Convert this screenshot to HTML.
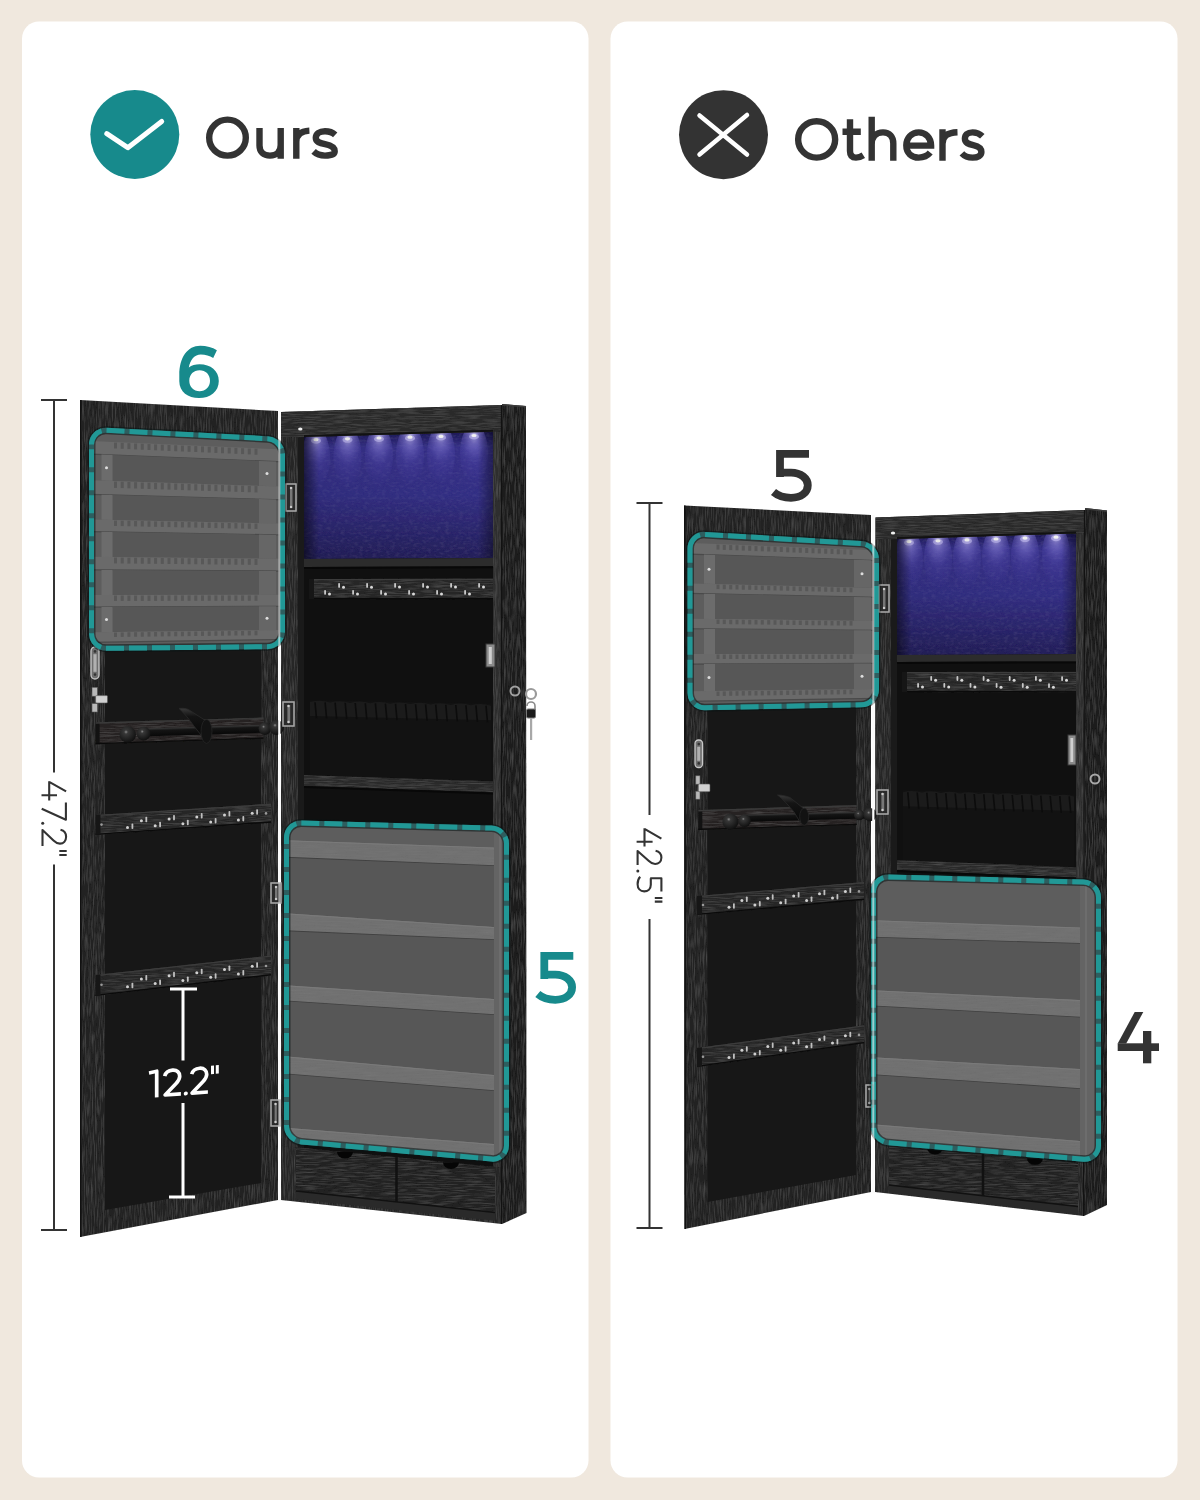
<!DOCTYPE html><html><head><meta charset="utf-8"><style>
html,body{margin:0;padding:0;background:#f0e8de;width:1200px;height:1500px;overflow:hidden}
svg{display:block}
text{font-family:"Liberation Sans",sans-serif}
</style></head><body>
<svg width="1200" height="1500" viewBox="0 0 1200 1500">
<defs>
<linearGradient id="purp" x1="0" y1="0" x2="0" y2="1">
<stop offset="0" stop-color="#1e1a58"/><stop offset="0.12" stop-color="#38338e"/><stop offset="0.5" stop-color="#36318a"/><stop offset="1" stop-color="#26225e"/>
</linearGradient>
<linearGradient id="purpL" x1="0" y1="0" x2="1" y2="0">
<stop offset="0" stop-color="#000" stop-opacity="0.55"/><stop offset="0.08" stop-color="#000" stop-opacity="0.1"/><stop offset="0.92" stop-color="#000" stop-opacity="0.05"/><stop offset="1" stop-color="#000" stop-opacity="0.4"/>
</linearGradient>
<radialGradient id="led" cx="0.5" cy="0.12" r="0.88">
<stop offset="0" stop-color="#d8d2ff" stop-opacity="0.9"/><stop offset="0.25" stop-color="#958be8" stop-opacity="0.6"/><stop offset="0.6" stop-color="#6a60d0" stop-opacity="0.2"/><stop offset="1" stop-color="#5a50c8" stop-opacity="0"/>
</radialGradient>
<radialGradient id="knob" cx="0.4" cy="0.35" r="0.65">
<stop offset="0" stop-color="#8a8a8a"/><stop offset="0.18" stop-color="#383838"/><stop offset="1" stop-color="#101010"/>
</radialGradient>
<linearGradient id="rodg" x1="0" y1="0" x2="0" y2="1">
<stop offset="0" stop-color="#3a3a3a"/><stop offset="0.3" stop-color="#141414"/><stop offset="1" stop-color="#080808"/>
</linearGradient>
<filter id="speck" x="0" y="0" width="1" height="1" filterUnits="objectBoundingBox">
<feTurbulence type="fractalNoise" baseFrequency="0.22 0.4" numOctaves="2" seed="11" result="n"/>
<feColorMatrix in="n" type="matrix" values="0 0 0 0 0.5  0 0 0 0 0.45  0 0 0 0 0.9  0 0 0 0.1 -0.04" result="w"/>
<feComposite in="w" in2="SourceGraphic" operator="in" result="wi"/>
<feMerge><feMergeNode in="SourceGraphic"/><feMergeNode in="wi"/></feMerge>
</filter>
<filter id="grainR" x="0" y="0" width="1" height="1" filterUnits="objectBoundingBox">
<feTurbulence type="fractalNoise" baseFrequency="0.05 0.7" numOctaves="2" seed="9" result="n"/>
<feColorMatrix in="n" type="matrix" values="0 0 0 0 0.25  0 0 0 0 0.25  0 0 0 0 0.25  0 0 0 0.35 -0.12" result="w"/>
<feComposite in="w" in2="SourceGraphic" operator="in" result="wi"/>
<feMerge><feMergeNode in="SourceGraphic"/><feMergeNode in="wi"/></feMerge>
</filter>
<filter id="grainH" x="0" y="0" width="1" height="1" filterUnits="objectBoundingBox">
<feTurbulence type="fractalNoise" baseFrequency="0.06 0.9" numOctaves="2" seed="4" result="n"/>
<feColorMatrix in="n" type="matrix" values="0 0 0 0 0.5  0 0 0 0 0.5  0 0 0 0 0.5  0 0 0 0.2 -0.08" result="w"/>
<feComposite in="w" in2="SourceGraphic" operator="in" result="wi"/>
<feMerge><feMergeNode in="SourceGraphic"/><feMergeNode in="wi"/></feMerge>
</filter>
<filter id="grainV" x="0" y="0" width="1" height="1" filterUnits="objectBoundingBox">
<feTurbulence type="fractalNoise" baseFrequency="0.9 0.06" numOctaves="2" seed="7" result="n"/>
<feColorMatrix in="n" type="matrix" values="0 0 0 0 0.5  0 0 0 0 0.5  0 0 0 0 0.5  0 0 0 0.2 -0.08" result="w"/>
<feComposite in="w" in2="SourceGraphic" operator="in" result="wi"/>
<feMerge><feMergeNode in="SourceGraphic"/><feMergeNode in="wi"/></feMerge>
</filter>
</defs>
<rect x="0" y="0" width="1200" height="1500" fill="#f0e8de"/>
<rect x="22" y="21.5" width="566.5" height="1456" rx="17" fill="#ffffff"/>
<rect x="610.5" y="21.5" width="567" height="1456" rx="17" fill="#ffffff"/>

<circle cx="134.8" cy="134.5" r="44.5" fill="#178a8c"/>
<path d="M106.8,133.7 L127.8,147.7 L161.7,121.5" fill="none" stroke="#ffffff" stroke-width="5" stroke-linecap="round" stroke-linejoin="round"/>
<g fill="none" stroke="#333333" stroke-width="6.4"><ellipse cx="227.5" cy="137.65" rx="18.3" ry="18"/><path d="M259.5,128 V145.5 C259.5,152 263.5,155.6 270,155.6 C276.5,155.6 280.7,151.5 280.7,145 M280.7,128 V158.8"/><path d="M296.3,128 V158.8 M296.3,142 C296.3,134.5 301,131 309.4,130.6"/><path d="M335.2,134.8 C332.5,132.3 329,131.2 325,131.2 C319.2,131.2 315.8,134 315.8,137.8 C315.8,142 319.8,143.2 325,144.2 C330.6,145.3 334.7,146.8 334.7,151.2 C334.7,154.3 331.2,155.6 325,155.6 C320.5,155.6 316.5,154.2 313.6,151.4"/></g>
<circle cx="723.5" cy="134.7" r="44.5" fill="#333333"/>
<path d="M699.5,115.5 L747,154.5 M747,115 L699.5,154.5" fill="none" stroke="#ffffff" stroke-width="4.5" stroke-linecap="round"/>
<g fill="none" stroke="#333333" stroke-width="6.4"><ellipse cx="816.65" cy="139.4" rx="18.5" ry="18.2"/><path d="M850,119.2 V151 C850,155.8 852.5,157.6 856,157.6 C858.6,157.6 860.8,156.8 863.3,155.2 M842.5,131.7 H860.8"/><path d="M871.7,116.7 V160.8 M871.7,144.5 C871.7,136.5 876.5,132.4 883,132.4 C889.5,132.4 893.3,136.5 893.3,143.5 V160.8"/><path d="M906.3,145.6 H931.1 C931.1,137.5 925.5,132.4 918.75,132.4 C911.4,132.4 906.3,138 906.3,145.3 C906.3,153 911.5,157.6 918.75,157.6 C923.6,157.6 927.6,155.8 930.2,152.6"/><path d="M942.5,129.2 V160.8 M942.5,144 C942.5,136 947.5,132.6 957.5,132.3"/><path d="M982.3,136.2 C979.6,133.6 976.2,132.4 972.6,132.4 C967.2,132.4 964.9,135 964.9,138.8 C964.9,143 968.8,144.1 973.2,145.1 C978.6,146.3 981.4,148 981.4,152 C981.4,155.6 977.8,157.6 972.6,157.6 C968.2,157.6 964.3,156 961.9,153.4"/></g>
<path d="M809,453.85 H780 V477" fill="none" stroke="#333333" stroke-width="7.8" stroke-linejoin="miter"/><path d="M780,472.6 L791,472.6 C801,472.6 807.8,478.5 807.8,485.2 C807.8,492.5 801,497.8 791,497.8 C784,497.8 778,495.8 773.5,492" fill="none" stroke="#333333" stroke-width="7.8"/>
<g transform="translate(-235.7,502)"><path d="M809,453.85 H780 V477" fill="none" stroke="#178a8c" stroke-width="7.8" stroke-linejoin="miter"/><path d="M780,472.6 L791,472.6 C801,472.6 807.8,478.5 807.8,485.2 C807.8,492.5 801,497.8 791,497.8 C784,497.8 778,495.8 773.5,492" fill="none" stroke="#178a8c" stroke-width="7.8"/></g>
<path fill-rule="evenodd" fill="#178a8c" d="M216.9,350.2 C212.5,347.2 206.5,345.7 200.2,345.7 C187.5,345.7 179.3,357.5 179.3,375 L179.3,381.2 C179.3,391.8 188,398.1 199,398.1 C210.2,398.1 218.8,391.6 218.8,381 C218.8,370.8 210.6,364.3 199.6,364.3 C195.4,364.3 191.6,365.4 188.8,367.6 C190.2,359.3 194.6,354.4 200.8,354.4 C205.6,354.4 209.6,355.7 213.2,358 Z M189.3,380.8 C189.3,374.3 193.6,370.2 199.6,370.2 C205.6,370.2 210,374.3 210,380.8 C210,387.2 205.6,391.2 199.6,391.2 C193.6,391.2 189.3,387.2 189.3,380.8 Z"/>
<polygon points="1134.7,1012 1143.3,1012 1126.2,1043.5 1117.7,1043.5" fill="#333333"/>
<rect x="1117.7" y="1043.3" width="41.3" height="7.7" fill="#333333"/>
<rect x="1143" y="1031" width="8.3" height="32.3" fill="#333333"/>
<path d="M41,400 H67 M54,400 V772.4 M54,864.4 V1230 M41,1230 H67" stroke="#333333" stroke-width="2" fill="none"/>
<path d="M636.5,503 H662.5 M649.5,503 V815 M649.5,919 V1228 M636.5,1228 H662.5" stroke="#333333" stroke-width="2" fill="none"/>
<g transform="translate(41.5,781.2) rotate(90)" fill="none" stroke="#333333" stroke-width="2.1" stroke-linejoin="round"><path d="M0,-7.7 H19.4 M0.6,-7.7 L10.2,-24.6 M14,0 V-15.5"/><path d="M21.2,-24.4 H38.6 L27.6,-0.2"/><path d="M48.6,-19 C49.5,-22.6 52,-24.6 55.6,-24.6 C59.6,-24.6 62.4,-22 62.4,-18.5 C62.4,-16 61.2,-14 59.2,-12 L48.8,-1 H64.8"/><path d="M69.8,-25.2 V-17.8 M73.8,-25.2 V-17.8"/><circle cx="42" cy="-1.2" r="1.5" fill="#333333" stroke="none"/></g>
<g transform="translate(636.6,828.2) rotate(90)" fill="none" stroke="#333333" stroke-width="2.1" stroke-linejoin="round"><path d="M0,-7.9 H18.4 M0.6,-7.9 L10.4,-24.8 M13.6,0 V-16"/><path d="M22.6,-19 C23.5,-22.6 26,-24.8 29.4,-24.8 C33.3,-24.8 35.8,-22 35.8,-18.5 C35.8,-16 34.6,-14 32.6,-12 L22.8,-1 H36.8"/><path d="M63.2,-24.8 H50.1 V-13.6 M50.1,-14.2 H56.5 C61,-14.2 63.2,-11.2 63.2,-7.6 C63.2,-3.6 60.2,-1 56,-1 C52.8,-1 50.2,-2 48.6,-3.6"/><path d="M69.8,-25.8 V-18.2 M73.4,-25.8 V-18.2"/><circle cx="42.8" cy="-1.2" r="1.5" fill="#333333" stroke="none"/></g>
<polygon points="502.0,404.0 526.0,406.0 526.5,1213.0 502.0,1224.0" fill="#1f1f1f" filter="url(#grainV)"/><line x1="502" y1="404.7" x2="526" y2="406.7" stroke="#3c3c3c" stroke-width="1.5"/><polygon points="281.0,412.0 502.0,405.0 502.0,1224.0 281.0,1200.0" fill="#262626" filter="url(#grainV)"/><polygon points="304.0,437.0 493.0,431.9 493.0,1166.7 304.0,1148.0" fill="#101010" /><polygon points="304.0,437.0 493.0,431.9 493.0,558.0 304.0,559.0" fill="url(#purp)" filter="url(#speck)"/><ellipse cx="316.0" cy="457.7" rx="14" ry="30" fill="url(#led)"/><ellipse cx="316.0" cy="440.7" rx="5" ry="3" fill="#cfc8ff" opacity="0.6"/><ellipse cx="316.0" cy="439.7" rx="2.6" ry="1.6" fill="#ffffff"/><ellipse cx="347.5" cy="456.8" rx="14" ry="30" fill="url(#led)"/><ellipse cx="347.5" cy="439.8" rx="5" ry="3" fill="#cfc8ff" opacity="0.6"/><ellipse cx="347.5" cy="438.8" rx="2.6" ry="1.6" fill="#ffffff"/><ellipse cx="379.0" cy="456.0" rx="14" ry="30" fill="url(#led)"/><ellipse cx="379.0" cy="439.0" rx="5" ry="3" fill="#cfc8ff" opacity="0.6"/><ellipse cx="379.0" cy="438.0" rx="2.6" ry="1.6" fill="#ffffff"/><ellipse cx="410.0" cy="455.2" rx="14" ry="30" fill="url(#led)"/><ellipse cx="410.0" cy="438.2" rx="5" ry="3" fill="#cfc8ff" opacity="0.6"/><ellipse cx="410.0" cy="437.2" rx="2.6" ry="1.6" fill="#ffffff"/><ellipse cx="441.0" cy="454.4" rx="14" ry="30" fill="url(#led)"/><ellipse cx="441.0" cy="437.4" rx="5" ry="3" fill="#cfc8ff" opacity="0.6"/><ellipse cx="441.0" cy="436.4" rx="2.6" ry="1.6" fill="#ffffff"/><ellipse cx="474.0" cy="453.5" rx="14" ry="30" fill="url(#led)"/><ellipse cx="474.0" cy="436.5" rx="5" ry="3" fill="#cfc8ff" opacity="0.6"/><ellipse cx="474.0" cy="435.5" rx="2.6" ry="1.6" fill="#ffffff"/><polygon points="304.0,437.0 493.0,431.9 493.0,558.0 304.0,559.0" fill="url(#purpL)" /><polygon points="281.0,412.0 502.0,405.0 502.0,431.6 281.0,437.6" fill="#2a2a2a" filter="url(#grainH)"/><line x1="304.0" y1="436.0" x2="493.0" y2="430.8" stroke="#121212" stroke-width="2" /><polygon points="281.0,437.6 304.0,437.0 304.0,1148.0 281.0,1145.7" fill="#262626" filter="url(#grainV)"/><polygon points="298.0,437.2 304.0,437.0 304.0,1148.0 298.0,1147.4" fill="#1a1a1a" /><polygon points="493.0,431.9 502.0,431.6 502.0,1167.6 493.0,1166.7" fill="#2e2e2e" filter="url(#grainV)"/><line x1="501.5" y1="405" x2="501.5" y2="1224" stroke="#121212" stroke-width="1.2"/><polygon points="304.0,559.0 493.0,558.0 493.0,566.2 304.0,567.0" fill="#2c2c2c" /><line x1="304.0" y1="568.0" x2="493.0" y2="567.3" stroke="#080808" stroke-width="2" /><polygon points="309.0,579.0 493.0,578.6 493.0,599.3 309.0,599.0" fill="#262626" filter="url(#grainH)"/><line x1="309.0" y1="579.7" x2="493.0" y2="579.4" stroke="#3c3c3c" stroke-width="1.2" /><line x1="309.0" y1="598.4" x2="493.0" y2="598.7" stroke="#0a0a0a" stroke-width="1.4" /><polygon points="309.0,579.0 314.0,579.0 314.0,599.0 309.0,599.0" fill="#161616" /><rect x="338.2" y="583.1" width="1.8" height="4.8" rx="0.8" fill="#c8c8c8"/><circle cx="343.5" cy="587.2" r="1.5" fill="#d8d8d8"/><rect x="366.2" y="583.1" width="1.8" height="4.8" rx="0.8" fill="#c8c8c8"/><circle cx="371.5" cy="587.2" r="1.5" fill="#d8d8d8"/><rect x="394.2" y="583.0" width="1.8" height="4.8" rx="0.8" fill="#c8c8c8"/><circle cx="399.5" cy="587.1" r="1.5" fill="#d8d8d8"/><rect x="422.2" y="583.0" width="1.8" height="4.8" rx="0.8" fill="#c8c8c8"/><circle cx="427.5" cy="587.1" r="1.5" fill="#d8d8d8"/><rect x="450.2" y="583.0" width="1.8" height="4.8" rx="0.8" fill="#c8c8c8"/><circle cx="455.5" cy="587.1" r="1.5" fill="#d8d8d8"/><rect x="478.2" y="583.0" width="1.8" height="4.8" rx="0.8" fill="#c8c8c8"/><circle cx="483.5" cy="587.1" r="1.5" fill="#d8d8d8"/><rect x="324.2" y="589.9" width="1.8" height="4.8" rx="0.8" fill="#c8c8c8"/><circle cx="329.5" cy="594.0" r="1.5" fill="#d8d8d8"/><rect x="352.2" y="589.9" width="1.8" height="4.8" rx="0.8" fill="#c8c8c8"/><circle cx="357.5" cy="594.0" r="1.5" fill="#d8d8d8"/><rect x="380.2" y="589.9" width="1.8" height="4.8" rx="0.8" fill="#c8c8c8"/><circle cx="385.5" cy="594.0" r="1.5" fill="#d8d8d8"/><rect x="408.2" y="590.0" width="1.8" height="4.8" rx="0.8" fill="#c8c8c8"/><circle cx="413.5" cy="594.1" r="1.5" fill="#d8d8d8"/><rect x="436.2" y="590.0" width="1.8" height="4.8" rx="0.8" fill="#c8c8c8"/><circle cx="441.5" cy="594.1" r="1.5" fill="#d8d8d8"/><rect x="464.2" y="590.0" width="1.8" height="4.8" rx="0.8" fill="#c8c8c8"/><circle cx="469.5" cy="594.1" r="1.5" fill="#d8d8d8"/><polygon points="310.0,700.1 491.0,703.6 491.0,781.1 310.0,775.2" fill="#121212" /><path d="M310.0,702.1 Q320.1,699.3 330.1,702.5 Q340.2,699.7 350.2,702.9 Q360.3,700.1 370.3,703.3 Q380.4,700.5 390.4,703.7 Q400.5,700.9 410.6,704.1 Q420.6,701.3 430.7,704.5 Q440.7,701.7 450.8,704.9 Q460.8,702.1 470.9,705.3 Q480.9,702.5 491.0,705.7 L491.0,720.2 L310.0,716.1 Z" fill="#1b1b1b"/><line x1="315.0" y1="702.2" x2="316.5" y2="718.3" stroke="#0c0c0c" stroke-width="1.6"/><line x1="325.1" y1="702.4" x2="326.6" y2="718.5" stroke="#0c0c0c" stroke-width="1.6"/><line x1="335.1" y1="702.6" x2="336.6" y2="718.7" stroke="#0c0c0c" stroke-width="1.6"/><line x1="345.2" y1="702.8" x2="346.7" y2="719.0" stroke="#0c0c0c" stroke-width="1.6"/><line x1="355.2" y1="703.0" x2="356.8" y2="719.2" stroke="#0c0c0c" stroke-width="1.6"/><line x1="365.3" y1="703.2" x2="366.8" y2="719.4" stroke="#0c0c0c" stroke-width="1.6"/><line x1="375.4" y1="703.4" x2="376.9" y2="719.7" stroke="#0c0c0c" stroke-width="1.6"/><line x1="385.4" y1="703.6" x2="386.9" y2="719.9" stroke="#0c0c0c" stroke-width="1.6"/><line x1="395.5" y1="703.8" x2="397.0" y2="720.1" stroke="#0c0c0c" stroke-width="1.6"/><line x1="405.5" y1="704.0" x2="407.0" y2="720.3" stroke="#0c0c0c" stroke-width="1.6"/><line x1="415.6" y1="704.2" x2="417.1" y2="720.6" stroke="#0c0c0c" stroke-width="1.6"/><line x1="425.6" y1="704.4" x2="427.1" y2="720.8" stroke="#0c0c0c" stroke-width="1.6"/><line x1="435.7" y1="704.6" x2="437.2" y2="721.0" stroke="#0c0c0c" stroke-width="1.6"/><line x1="445.8" y1="704.8" x2="447.2" y2="721.3" stroke="#0c0c0c" stroke-width="1.6"/><line x1="455.8" y1="705.0" x2="457.3" y2="721.5" stroke="#0c0c0c" stroke-width="1.6"/><line x1="465.9" y1="705.2" x2="467.4" y2="721.7" stroke="#0c0c0c" stroke-width="1.6"/><line x1="475.9" y1="705.4" x2="477.4" y2="721.9" stroke="#0c0c0c" stroke-width="1.6"/><line x1="486.0" y1="705.6" x2="487.5" y2="722.2" stroke="#0c0c0c" stroke-width="1.6"/><polygon points="304.0,775.0 493.0,781.2 493.0,792.6 304.0,786.0" fill="#2c2c2c" filter="url(#grainH)"/><line x1="304.0" y1="787.0" x2="493.0" y2="793.6" stroke="#080808" stroke-width="2" /><polygon points="296.0,1147.2 495.0,1166.9 495.0,1212.4 296.0,1191.1" fill="#202020" filter="url(#grainH)"/><polygon points="296.0,1191.1 495.0,1212.4 495.0,1220.7 296.0,1199.1" fill="#2a2a2a" /><line x1="296.0" y1="1191.1" x2="495.0" y2="1212.4" stroke="#111" stroke-width="1.5" /><line x1="396.5" y1="1157.2" x2="396.5" y2="1201.9" stroke="#111" stroke-width="2.5"/><path d="M337.0,1152.1 A8,6.5 0 0 0 353.0,1152.1 Z" fill="#050505"/><path d="M443.0,1162.5 A8,6.5 0 0 0 459.0,1162.5 Z" fill="#050505"/><rect x="486" y="644" width="9" height="23" fill="#8a8a8a" stroke="#3a3a3a" stroke-width="1"/><rect x="488.7" y="647" width="3.1" height="17" fill="#cfcfcf"/><circle cx="515" cy="691" r="4.5" fill="none" stroke="#a0a0a0" stroke-width="2"/><circle cx="531" cy="694" r="5" fill="none" stroke="#9a9a9a" stroke-width="2.2"/><path d="M527,706 a4,4 0 0 1 8,0 v4" fill="none" stroke="#8a8a8a" stroke-width="1.6"/><rect x="526.5" y="709" width="9" height="9" rx="1.5" fill="#1a1a1a" stroke="#777" stroke-width="1"/><rect x="530" y="718" width="2.2" height="22" fill="#a8a8a8"/><ellipse cx="300.3" cy="429" rx="2.2" ry="1.5" fill="#f0f0f0"/><polygon points="80.0,400.0 278.0,411.0 278.0,1200.0 80.0,1237.0" fill="#232323" filter="url(#grainV)"/><polygon points="105.0,432.0 261.0,442.0 261.0,1183.0 105.0,1210.0" fill="#171717" /><line x1="80.8" y1="400" x2="80.8" y2="1237" stroke="#111" stroke-width="1.6"/><polygon points="95.5,815.0 271.0,803.6 271.0,822.6 95.5,835.0" fill="#262626" filter="url(#grainH)"/><line x1="95.5" y1="815.7" x2="271.0" y2="804.3" stroke="#3c3c3c" stroke-width="1.2" /><line x1="95.5" y1="834.4" x2="271.0" y2="822.0" stroke="#0a0a0a" stroke-width="1.4" /><polygon points="95.5,815.0 100.5,814.7 100.5,834.6 95.5,835.0" fill="#161616" /><circle cx="101.5" cy="824.6" r="1.3" fill="#9a9a9a"/><circle cx="266.0" cy="813.4" r="1.3" fill="#9a9a9a"/><circle cx="141.4" cy="820.7" r="1.5" fill="#d0d0d0"/><rect x="145.4" y="816.7" width="1.8" height="5.5" rx="0.8" fill="#c0c0c0"/><circle cx="169.1" cy="818.9" r="1.5" fill="#d0d0d0"/><rect x="173.1" y="814.9" width="1.8" height="5.5" rx="0.8" fill="#c0c0c0"/><circle cx="196.8" cy="817.0" r="1.5" fill="#d0d0d0"/><rect x="200.8" y="813.0" width="1.8" height="5.5" rx="0.8" fill="#c0c0c0"/><circle cx="224.5" cy="815.1" r="1.5" fill="#d0d0d0"/><rect x="228.5" y="811.1" width="1.8" height="5.5" rx="0.8" fill="#c0c0c0"/><circle cx="252.2" cy="813.3" r="1.5" fill="#d0d0d0"/><rect x="256.2" y="809.3" width="1.8" height="5.5" rx="0.8" fill="#c0c0c0"/><circle cx="127.5" cy="827.6" r="1.5" fill="#d0d0d0"/><rect x="131.5" y="823.6" width="1.8" height="5.5" rx="0.8" fill="#c0c0c0"/><circle cx="155.2" cy="825.7" r="1.5" fill="#d0d0d0"/><rect x="159.2" y="821.7" width="1.8" height="5.5" rx="0.8" fill="#c0c0c0"/><circle cx="182.9" cy="823.8" r="1.5" fill="#d0d0d0"/><rect x="186.9" y="819.8" width="1.8" height="5.5" rx="0.8" fill="#c0c0c0"/><circle cx="210.7" cy="821.9" r="1.5" fill="#d0d0d0"/><rect x="214.7" y="817.9" width="1.8" height="5.5" rx="0.8" fill="#c0c0c0"/><circle cx="238.4" cy="819.9" r="1.5" fill="#d0d0d0"/><rect x="242.4" y="815.9" width="1.8" height="5.5" rx="0.8" fill="#c0c0c0"/><polygon points="95.5,975.0 271.0,955.4 271.0,975.4 95.5,996.0" fill="#262626" filter="url(#grainH)"/><line x1="95.5" y1="975.7" x2="271.0" y2="956.1" stroke="#3c3c3c" stroke-width="1.2" /><line x1="95.5" y1="995.4" x2="271.0" y2="974.8" stroke="#0a0a0a" stroke-width="1.4" /><polygon points="95.5,975.0 100.5,974.4 100.5,995.4 95.5,996.0" fill="#161616" /><circle cx="101.5" cy="984.8" r="1.3" fill="#9a9a9a"/><circle cx="266.0" cy="966.0" r="1.3" fill="#9a9a9a"/><circle cx="141.4" cy="979.0" r="1.5" fill="#d0d0d0"/><rect x="145.4" y="975.0" width="1.8" height="5.5" rx="0.8" fill="#c0c0c0"/><circle cx="169.1" cy="975.8" r="1.5" fill="#d0d0d0"/><rect x="173.1" y="971.8" width="1.8" height="5.5" rx="0.8" fill="#c0c0c0"/><circle cx="196.8" cy="972.7" r="1.5" fill="#d0d0d0"/><rect x="200.8" y="968.7" width="1.8" height="5.5" rx="0.8" fill="#c0c0c0"/><circle cx="224.5" cy="969.5" r="1.5" fill="#d0d0d0"/><rect x="228.5" y="965.5" width="1.8" height="5.5" rx="0.8" fill="#c0c0c0"/><circle cx="252.2" cy="966.3" r="1.5" fill="#d0d0d0"/><rect x="256.2" y="962.3" width="1.8" height="5.5" rx="0.8" fill="#c0c0c0"/><circle cx="127.5" cy="986.8" r="1.5" fill="#d0d0d0"/><rect x="131.5" y="982.8" width="1.8" height="5.5" rx="0.8" fill="#c0c0c0"/><circle cx="155.2" cy="983.6" r="1.5" fill="#d0d0d0"/><rect x="159.2" y="979.6" width="1.8" height="5.5" rx="0.8" fill="#c0c0c0"/><circle cx="182.9" cy="980.4" r="1.5" fill="#d0d0d0"/><rect x="186.9" y="976.4" width="1.8" height="5.5" rx="0.8" fill="#c0c0c0"/><circle cx="210.7" cy="977.2" r="1.5" fill="#d0d0d0"/><rect x="214.7" y="973.2" width="1.8" height="5.5" rx="0.8" fill="#c0c0c0"/><circle cx="238.4" cy="974.0" r="1.5" fill="#d0d0d0"/><rect x="242.4" y="970.0" width="1.8" height="5.5" rx="0.8" fill="#c0c0c0"/><polygon points="95.6,722.2 263.5,717.6 263.5,738.7 95.6,744.2" fill="#252321" filter="url(#grainH)"/><polygon points="95.6,722.2 99.6,722.2 99.6,744.2 95.6,744.2" fill="#121212" /><line x1="95.6" y1="723.0" x2="263.5" y2="718.4" stroke="#3a3a3a" stroke-width="1.4"/><line x1="95.6" y1="743.6" x2="263.5" y2="738.1" stroke="#0a0a0a" stroke-width="1.4"/><g transform="translate(138,732.6) rotate(-1.74)"><rect x="0" y="-4.0" width="132.1" height="8" rx="4.0" fill="url(#rodg)"/></g><path d="M179,708.4 C183,708 186,708.5 188.3,709.4 L206.6,721.3 L201,735 L193.8,725.9 C189,719 184,713 179,708.4 Z" fill="url(#rodg)" stroke="#2a2a2a" stroke-width="0.8"/><ellipse cx="206.5" cy="731.4" rx="5.5" ry="12" fill="#121212" stroke="#262626" stroke-width="0.8"/><circle cx="127.7" cy="734.5" r="8.3" fill="url(#knob)"/><circle cx="143.6" cy="733.6" r="6.9" fill="url(#knob)"/><circle cx="264.8" cy="728.6" r="6.3" fill="url(#knob)"/><circle cx="276.5" cy="727.5" r="7.5" fill="url(#knob)"/><rect x="91" y="647" width="8" height="32" rx="4" fill="#6e6e6e" stroke="#c8c8c8" stroke-width="1.3"/><rect x="93.4" y="654.2" width="3.2" height="17.6" fill="#b0b0b0"/><circle cx="95.0" cy="651.4" r="1.3" fill="#333"/><circle cx="95.0" cy="674.6" r="1.3" fill="#333"/><rect x="92" y="687.3" width="5.4" height="8.9" fill="#b8b8b8" stroke="#555" stroke-width="0.6"/><rect x="92" y="703.6" width="5.4" height="8.4" fill="#b8b8b8" stroke="#555" stroke-width="0.6"/><rect x="95.6" y="695.6" width="11.9" height="7.4" rx="1" fill="#d0d0d0" stroke="#555" stroke-width="0.6"/><line x1="279.3" y1="411" x2="279.3" y2="1201" stroke="#f4f4f4" stroke-width="2"/><rect x="286" y="484" width="10" height="27" fill="#2a2a2a" stroke="#b0b0b0" stroke-width="1.4"/><rect x="290.0" y="487" width="2.5" height="21" fill="#777"/><circle cx="291.0" cy="488" r="1.2" fill="#ccc"/><circle cx="291.0" cy="507" r="1.2" fill="#ccc"/><rect x="283" y="702" width="11" height="24" fill="#2a2a2a" stroke="#b0b0b0" stroke-width="1.4"/><rect x="287.4" y="705" width="2.8" height="18" fill="#777"/><circle cx="288.5" cy="706" r="1.2" fill="#ccc"/><circle cx="288.5" cy="722" r="1.2" fill="#ccc"/><rect x="271" y="883" width="10" height="20" fill="#2a2a2a" stroke="#b0b0b0" stroke-width="1.4"/><rect x="275.0" y="886" width="2.5" height="14" fill="#777"/><circle cx="276.0" cy="887" r="1.2" fill="#ccc"/><circle cx="276.0" cy="899" r="1.2" fill="#ccc"/><rect x="271" y="1100" width="9" height="26" fill="#2a2a2a" stroke="#b0b0b0" stroke-width="1.4"/><rect x="274.6" y="1103" width="2.2" height="20" fill="#777"/><circle cx="275.5" cy="1104" r="1.2" fill="#ccc"/><circle cx="275.5" cy="1122" r="1.2" fill="#ccc"/><clipPath id="ov1"><path d="M91.5,444.5 C91.5,436.3 98.3,429.9 106.5,430.3 L267.5,438.7 C275.7,439.1 282.5,446.3 282.5,454.5 L282.5,631.5 C282.5,639.7 275.7,646.6 267.5,646.7 L106.5,648.3 C98.3,648.4 91.5,641.7 91.5,633.5 Z"/></clipPath><path d="M91.5,444.5 C91.5,436.3 98.3,429.9 106.5,430.3 L267.5,438.7 C275.7,439.1 282.5,446.3 282.5,454.5 L282.5,631.5 C282.5,639.7 275.7,646.6 267.5,646.7 L106.5,648.3 C98.3,648.4 91.5,641.7 91.5,633.5 Z" fill="#5d5d5d"/><g clip-path="url(#ov1)"><polygon points="84.0,440.8 290.0,449.8 290.0,462.1 84.0,453.9" fill="#6a6a6a" /><rect x="114.0" y="442.6" width="3" height="5.9" fill="#585858"/><rect x="120.7" y="442.9" width="3" height="5.9" fill="#585858"/><rect x="127.4" y="443.2" width="3" height="5.9" fill="#585858"/><rect x="134.1" y="443.5" width="3" height="5.9" fill="#585858"/><rect x="140.8" y="443.8" width="3" height="5.9" fill="#585858"/><rect x="147.5" y="444.1" width="3" height="5.9" fill="#585858"/><rect x="154.1" y="444.4" width="3" height="5.9" fill="#585858"/><rect x="160.8" y="444.7" width="3" height="5.9" fill="#585858"/><rect x="167.5" y="445.0" width="3" height="5.9" fill="#585858"/><rect x="174.2" y="445.3" width="3" height="5.9" fill="#585858"/><rect x="180.9" y="445.6" width="3" height="5.9" fill="#585858"/><rect x="187.6" y="445.9" width="3" height="5.9" fill="#585858"/><rect x="194.3" y="446.1" width="3" height="5.9" fill="#585858"/><rect x="201.0" y="446.4" width="3" height="5.9" fill="#585858"/><rect x="207.7" y="446.7" width="3" height="5.9" fill="#585858"/><rect x="214.4" y="447.0" width="3" height="5.9" fill="#585858"/><rect x="221.0" y="447.3" width="3" height="5.9" fill="#585858"/><rect x="227.7" y="447.6" width="3" height="5.9" fill="#585858"/><rect x="234.4" y="447.9" width="3" height="5.9" fill="#585858"/><rect x="241.1" y="448.2" width="3" height="5.9" fill="#585858"/><rect x="247.8" y="448.5" width="3" height="5.9" fill="#585858"/><rect x="254.5" y="448.8" width="3" height="5.9" fill="#585858"/><line x1="84.0" y1="453.9" x2="290.0" y2="462.1" stroke="#4a4a4a" stroke-width="1.2" /><polygon points="112.5,455.0 259.0,460.9 259.0,485.7 112.5,481.0" fill="#575757" /><polygon points="101.5,454.6 112.5,455.0 112.5,481.0 101.5,480.6" fill="#6c6c6c" /><polygon points="259.0,460.9 276.0,461.5 276.0,486.3 259.0,485.7" fill="#666666" /><circle cx="106.5" cy="467.8" r="1.5" fill="#dddddd"/><circle cx="267.0" cy="473.6" r="1.5" fill="#dddddd"/><polygon points="84.0,480.1 290.0,486.8 290.0,500.0 84.0,494.2" fill="#6a6a6a" /><rect x="114.0" y="481.6" width="3" height="6.3" fill="#585858"/><rect x="120.7" y="481.8" width="3" height="6.3" fill="#585858"/><rect x="127.4" y="482.0" width="3" height="6.3" fill="#585858"/><rect x="134.1" y="482.2" width="3" height="6.3" fill="#585858"/><rect x="140.8" y="482.5" width="3" height="6.3" fill="#585858"/><rect x="147.5" y="482.7" width="3" height="6.3" fill="#585858"/><rect x="154.1" y="482.9" width="3" height="6.3" fill="#585858"/><rect x="160.8" y="483.1" width="3" height="6.3" fill="#585858"/><rect x="167.5" y="483.3" width="3" height="6.3" fill="#585858"/><rect x="174.2" y="483.5" width="3" height="6.3" fill="#585858"/><rect x="180.9" y="483.8" width="3" height="6.3" fill="#585858"/><rect x="187.6" y="484.0" width="3" height="6.3" fill="#585858"/><rect x="194.3" y="484.2" width="3" height="6.3" fill="#585858"/><rect x="201.0" y="484.4" width="3" height="6.3" fill="#585858"/><rect x="207.7" y="484.6" width="3" height="6.3" fill="#585858"/><rect x="214.4" y="484.8" width="3" height="6.3" fill="#585858"/><rect x="221.0" y="485.1" width="3" height="6.3" fill="#585858"/><rect x="227.7" y="485.3" width="3" height="6.3" fill="#585858"/><rect x="234.4" y="485.5" width="3" height="6.3" fill="#585858"/><rect x="241.1" y="485.7" width="3" height="6.3" fill="#585858"/><rect x="247.8" y="485.9" width="3" height="6.3" fill="#585858"/><rect x="254.5" y="486.1" width="3" height="6.3" fill="#585858"/><line x1="84.0" y1="494.2" x2="290.0" y2="500.0" stroke="#4a4a4a" stroke-width="1.2" /><polygon points="112.5,495.0 259.0,499.1 259.0,523.1 112.5,520.0" fill="#575757" /><polygon points="101.5,494.7 112.5,495.0 112.5,520.0 101.5,519.8" fill="#6c6c6c" /><polygon points="259.0,499.1 276.0,499.6 276.0,523.4 259.0,523.1" fill="#666666" /><polygon points="84.0,519.4 290.0,523.7 290.0,535.1 84.0,531.5" fill="#6a6a6a" /><rect x="114.0" y="520.6" width="3" height="5.4" fill="#585858"/><rect x="120.7" y="520.7" width="3" height="5.4" fill="#585858"/><rect x="127.4" y="520.8" width="3" height="5.4" fill="#585858"/><rect x="134.1" y="521.0" width="3" height="5.4" fill="#585858"/><rect x="140.8" y="521.1" width="3" height="5.4" fill="#585858"/><rect x="147.5" y="521.3" width="3" height="5.4" fill="#585858"/><rect x="154.1" y="521.4" width="3" height="5.4" fill="#585858"/><rect x="160.8" y="521.5" width="3" height="5.4" fill="#585858"/><rect x="167.5" y="521.7" width="3" height="5.4" fill="#585858"/><rect x="174.2" y="521.8" width="3" height="5.4" fill="#585858"/><rect x="180.9" y="522.0" width="3" height="5.4" fill="#585858"/><rect x="187.6" y="522.1" width="3" height="5.4" fill="#585858"/><rect x="194.3" y="522.2" width="3" height="5.4" fill="#585858"/><rect x="201.0" y="522.4" width="3" height="5.4" fill="#585858"/><rect x="207.7" y="522.5" width="3" height="5.4" fill="#585858"/><rect x="214.4" y="522.7" width="3" height="5.4" fill="#585858"/><rect x="221.0" y="522.8" width="3" height="5.4" fill="#585858"/><rect x="227.7" y="523.0" width="3" height="5.4" fill="#585858"/><rect x="234.4" y="523.1" width="3" height="5.4" fill="#585858"/><rect x="241.1" y="523.2" width="3" height="5.4" fill="#585858"/><rect x="247.8" y="523.4" width="3" height="5.4" fill="#585858"/><rect x="254.5" y="523.5" width="3" height="5.4" fill="#585858"/><line x1="84.0" y1="531.5" x2="290.0" y2="535.1" stroke="#4a4a4a" stroke-width="1.2" /><polygon points="112.5,532.0 259.0,534.6 259.0,558.5 112.5,557.0" fill="#575757" /><polygon points="101.5,531.8 112.5,532.0 112.5,557.0 101.5,556.9" fill="#6c6c6c" /><polygon points="259.0,534.6 276.0,534.9 276.0,558.7 259.0,558.5" fill="#666666" /><polygon points="84.0,556.7 290.0,558.8 290.0,571.1 84.0,569.8" fill="#6a6a6a" /><rect x="114.0" y="557.5" width="3" height="5.9" fill="#585858"/><rect x="120.7" y="557.6" width="3" height="5.9" fill="#585858"/><rect x="127.4" y="557.7" width="3" height="5.9" fill="#585858"/><rect x="134.1" y="557.7" width="3" height="5.9" fill="#585858"/><rect x="140.8" y="557.8" width="3" height="5.9" fill="#585858"/><rect x="147.5" y="557.9" width="3" height="5.9" fill="#585858"/><rect x="154.1" y="557.9" width="3" height="5.9" fill="#585858"/><rect x="160.8" y="558.0" width="3" height="5.9" fill="#585858"/><rect x="167.5" y="558.1" width="3" height="5.9" fill="#585858"/><rect x="174.2" y="558.1" width="3" height="5.9" fill="#585858"/><rect x="180.9" y="558.2" width="3" height="5.9" fill="#585858"/><rect x="187.6" y="558.3" width="3" height="5.9" fill="#585858"/><rect x="194.3" y="558.3" width="3" height="5.9" fill="#585858"/><rect x="201.0" y="558.4" width="3" height="5.9" fill="#585858"/><rect x="207.7" y="558.5" width="3" height="5.9" fill="#585858"/><rect x="214.4" y="558.6" width="3" height="5.9" fill="#585858"/><rect x="221.0" y="558.6" width="3" height="5.9" fill="#585858"/><rect x="227.7" y="558.7" width="3" height="5.9" fill="#585858"/><rect x="234.4" y="558.8" width="3" height="5.9" fill="#585858"/><rect x="241.1" y="558.8" width="3" height="5.9" fill="#585858"/><rect x="247.8" y="558.9" width="3" height="5.9" fill="#585858"/><rect x="254.5" y="559.0" width="3" height="5.9" fill="#585858"/><line x1="84.0" y1="569.8" x2="290.0" y2="571.1" stroke="#4a4a4a" stroke-width="1.2" /><polygon points="112.5,570.0 259.0,570.9 259.0,594.9 112.5,595.0" fill="#575757" /><polygon points="101.5,569.9 112.5,570.0 112.5,595.0 101.5,595.0" fill="#6c6c6c" /><polygon points="259.0,570.9 276.0,571.0 276.0,594.8 259.0,594.9" fill="#666666" /><polygon points="84.0,595.0 290.0,594.8 290.0,606.2 84.0,607.1" fill="#6a6a6a" /><rect x="114.0" y="595.5" width="3" height="5.4" fill="#585858"/><rect x="120.7" y="595.5" width="3" height="5.4" fill="#585858"/><rect x="127.4" y="595.5" width="3" height="5.4" fill="#585858"/><rect x="134.1" y="595.5" width="3" height="5.4" fill="#585858"/><rect x="140.8" y="595.5" width="3" height="5.4" fill="#585858"/><rect x="147.5" y="595.5" width="3" height="5.4" fill="#585858"/><rect x="154.1" y="595.5" width="3" height="5.4" fill="#585858"/><rect x="160.8" y="595.5" width="3" height="5.4" fill="#585858"/><rect x="167.5" y="595.4" width="3" height="5.4" fill="#585858"/><rect x="174.2" y="595.4" width="3" height="5.4" fill="#585858"/><rect x="180.9" y="595.4" width="3" height="5.4" fill="#585858"/><rect x="187.6" y="595.4" width="3" height="5.4" fill="#585858"/><rect x="194.3" y="595.4" width="3" height="5.4" fill="#585858"/><rect x="201.0" y="595.4" width="3" height="5.4" fill="#585858"/><rect x="207.7" y="595.4" width="3" height="5.4" fill="#585858"/><rect x="214.4" y="595.4" width="3" height="5.4" fill="#585858"/><rect x="221.0" y="595.4" width="3" height="5.4" fill="#585858"/><rect x="227.7" y="595.4" width="3" height="5.4" fill="#585858"/><rect x="234.4" y="595.4" width="3" height="5.4" fill="#585858"/><rect x="241.1" y="595.4" width="3" height="5.4" fill="#585858"/><rect x="247.8" y="595.4" width="3" height="5.4" fill="#585858"/><rect x="254.5" y="595.4" width="3" height="5.4" fill="#585858"/><line x1="84.0" y1="607.1" x2="290.0" y2="606.2" stroke="#4a4a4a" stroke-width="1.2" /><polygon points="112.5,607.0 259.0,606.3 259.0,630.3 112.5,632.0" fill="#575757" /><polygon points="101.5,607.0 112.5,607.0 112.5,632.0 101.5,632.1" fill="#6c6c6c" /><polygon points="259.0,606.3 276.0,606.3 276.0,630.1 259.0,630.3" fill="#666666" /><circle cx="106.5" cy="619.5" r="1.5" fill="#dddddd"/><circle cx="267.0" cy="618.2" r="1.5" fill="#dddddd"/><polygon points="84.0,632.3 290.0,629.9 290.0,639.4 84.0,642.4" fill="#6a6a6a" /><rect x="114.0" y="632.5" width="3" height="4.5" fill="#585858"/><rect x="120.7" y="632.4" width="3" height="4.5" fill="#585858"/><rect x="127.4" y="632.3" width="3" height="4.5" fill="#585858"/><rect x="134.1" y="632.2" width="3" height="4.5" fill="#585858"/><rect x="140.8" y="632.2" width="3" height="4.5" fill="#585858"/><rect x="147.5" y="632.1" width="3" height="4.5" fill="#585858"/><rect x="154.1" y="632.0" width="3" height="4.5" fill="#585858"/><rect x="160.8" y="631.9" width="3" height="4.5" fill="#585858"/><rect x="167.5" y="631.8" width="3" height="4.5" fill="#585858"/><rect x="174.2" y="631.8" width="3" height="4.5" fill="#585858"/><rect x="180.9" y="631.7" width="3" height="4.5" fill="#585858"/><rect x="187.6" y="631.6" width="3" height="4.5" fill="#585858"/><rect x="194.3" y="631.5" width="3" height="4.5" fill="#585858"/><rect x="201.0" y="631.4" width="3" height="4.5" fill="#585858"/><rect x="207.7" y="631.4" width="3" height="4.5" fill="#585858"/><rect x="214.4" y="631.3" width="3" height="4.5" fill="#585858"/><rect x="221.0" y="631.2" width="3" height="4.5" fill="#585858"/><rect x="227.7" y="631.1" width="3" height="4.5" fill="#585858"/><rect x="234.4" y="631.0" width="3" height="4.5" fill="#585858"/><rect x="241.1" y="631.0" width="3" height="4.5" fill="#585858"/><rect x="247.8" y="630.9" width="3" height="4.5" fill="#585858"/><rect x="254.5" y="630.8" width="3" height="4.5" fill="#585858"/><line x1="84.0" y1="642.4" x2="290.0" y2="639.4" stroke="#4a4a4a" stroke-width="1.2" /></g><path d="M91.5,444.5 C91.5,436.3 98.3,429.9 106.5,430.3 L267.5,438.7 C275.7,439.1 282.5,446.3 282.5,454.5 L282.5,631.5 C282.5,639.7 275.7,646.6 267.5,646.7 L106.5,648.3 C98.3,648.4 91.5,641.7 91.5,633.5 Z" fill="none" stroke="#0a1414" stroke-opacity="0.55" stroke-width="8"/><path d="M91.5,444.5 C91.5,436.3 98.3,429.9 106.5,430.3 L267.5,438.7 C275.7,439.1 282.5,446.3 282.5,454.5 L282.5,631.5 C282.5,639.7 275.7,646.6 267.5,646.7 L106.5,648.3 C98.3,648.4 91.5,641.7 91.5,633.5 Z" fill="none" stroke="#2d5e5f" stroke-width="5"/><path d="M91.5,444.5 C91.5,436.3 98.3,429.9 106.5,430.3 L267.5,438.7 C275.7,439.1 282.5,446.3 282.5,454.5 L282.5,631.5 C282.5,639.7 275.7,646.6 267.5,646.7 L106.5,648.3 C98.3,648.4 91.5,641.7 91.5,633.5 Z" fill="none" stroke="#219896" stroke-width="5" stroke-dasharray="18 5"/><clipPath id="ov2"><path d="M286.5,837.5 C286.5,829.3 293.3,822.7 301.5,822.9 L491.5,828.1 C499.7,828.3 506.5,835.3 506.5,843.5 L506.5,1145.5 C506.5,1153.7 499.7,1159.9 491.6,1159.1 L301.4,1141.9 C293.3,1141.1 286.5,1133.7 286.5,1125.5 Z"/></clipPath><path d="M286.5,837.5 C286.5,829.3 293.3,822.7 301.5,822.9 L491.5,828.1 C499.7,828.3 506.5,835.3 506.5,843.5 L506.5,1145.5 C506.5,1153.7 499.7,1159.9 491.6,1159.1 L301.4,1141.9 C293.3,1141.1 286.5,1133.7 286.5,1125.5 Z" fill="#5d5d5d"/><g clip-path="url(#ov2)"><rect x="494" y="821" width="20" height="347" fill="#646464"/><line x1="500" y1="826" x2="500" y2="1163" stroke="#777" stroke-width="1"/><polygon points="282.0,840.0 494.0,847.5 494.0,866.0 282.0,857.5" fill="#707070" filter="url(#grainR)"/><line x1="282.0" y1="840.6" x2="494.0" y2="848.1" stroke="#7a7a7a" stroke-width="1"/><line x1="282.0" y1="857.5" x2="494.0" y2="866.0" stroke="#404040" stroke-width="1.6"/><polygon points="282.0,857.5 494.0,866.0 494.0,927.0 282.0,913.0" fill="#575757" /><polygon points="282.0,913.0 494.0,927.0 494.0,940.0 282.0,931.0" fill="#707070" filter="url(#grainR)"/><line x1="282.0" y1="913.6" x2="494.0" y2="927.6" stroke="#7a7a7a" stroke-width="1"/><line x1="282.0" y1="931.0" x2="494.0" y2="940.0" stroke="#404040" stroke-width="1.6"/><polygon points="282.0,931.0 494.0,940.0 494.0,999.0 282.0,985.0" fill="#575757" /><polygon points="282.0,985.0 494.0,999.0 494.0,1015.0 282.0,1001.0" fill="#707070" filter="url(#grainR)"/><line x1="282.0" y1="985.6" x2="494.0" y2="999.6" stroke="#7a7a7a" stroke-width="1"/><line x1="282.0" y1="1001.0" x2="494.0" y2="1015.0" stroke="#404040" stroke-width="1.6"/><polygon points="282.0,1001.0 494.0,1015.0 494.0,1075.0 282.0,1056.0" fill="#575757" /><polygon points="282.0,1056.0 494.0,1075.0 494.0,1091.0 282.0,1074.0" fill="#707070" filter="url(#grainR)"/><line x1="282.0" y1="1056.6" x2="494.0" y2="1075.6" stroke="#7a7a7a" stroke-width="1"/><line x1="282.0" y1="1074.0" x2="494.0" y2="1091.0" stroke="#404040" stroke-width="1.6"/><polygon points="282.0,1074.0 494.0,1091.0 494.0,1144.0 282.0,1127.5" fill="#575757" /><polygon points="282.0,1127.5 494.0,1144.0 494.0,1175.0 282.0,1160.0" fill="#707070" filter="url(#grainR)"/><line x1="282.0" y1="1128.1" x2="494.0" y2="1144.6" stroke="#7a7a7a" stroke-width="1"/><line x1="282.0" y1="1160.0" x2="494.0" y2="1175.0" stroke="#404040" stroke-width="1.6"/></g><path d="M286.5,837.5 C286.5,829.3 293.3,822.7 301.5,822.9 L491.5,828.1 C499.7,828.3 506.5,835.3 506.5,843.5 L506.5,1145.5 C506.5,1153.7 499.7,1159.9 491.6,1159.1 L301.4,1141.9 C293.3,1141.1 286.5,1133.7 286.5,1125.5 Z" fill="none" stroke="#0a1414" stroke-opacity="0.55" stroke-width="8"/><path d="M286.5,837.5 C286.5,829.3 293.3,822.7 301.5,822.9 L491.5,828.1 C499.7,828.3 506.5,835.3 506.5,843.5 L506.5,1145.5 C506.5,1153.7 499.7,1159.9 491.6,1159.1 L301.4,1141.9 C293.3,1141.1 286.5,1133.7 286.5,1125.5 Z" fill="none" stroke="#2d5e5f" stroke-width="5"/><path d="M286.5,837.5 C286.5,829.3 293.3,822.7 301.5,822.9 L491.5,828.1 C499.7,828.3 506.5,835.3 506.5,843.5 L506.5,1145.5 C506.5,1153.7 499.7,1159.9 491.6,1159.1 L301.4,1141.9 C293.3,1141.1 286.5,1133.7 286.5,1125.5 Z" fill="none" stroke="#219896" stroke-width="5" stroke-dasharray="18 5"/><line x1="279.3" y1="411" x2="279.3" y2="1201" stroke="#ffffff" stroke-width="2" opacity="0.55"/><rect x="286" y="484" width="10" height="27" fill="none" stroke="#9a9a9a" stroke-width="1" opacity="0.6"/><rect x="283" y="702" width="11" height="24" fill="none" stroke="#9a9a9a" stroke-width="1" opacity="0.6"/><rect x="271" y="883" width="10" height="20" fill="none" stroke="#9a9a9a" stroke-width="1" opacity="0.6"/><rect x="271" y="1100" width="9" height="26" fill="none" stroke="#9a9a9a" stroke-width="1" opacity="0.6"/>
<path d="M170,989 H197 M183,989 V1060.5 M183,1103 V1197 M169,1197 H195" stroke="#ffffff" stroke-width="3" fill="none"/>
<g transform="translate(148.5,1098) skewY(-4)" fill="none" stroke="#ffffff" stroke-width="3.7" stroke-linejoin="round"><path d="M0.5,-25 L8.2,-26.2 V0"/><path d="M16.2,-20.8 C17.2,-24.6 20.2,-26.2 24,-26.2 C28.6,-26.2 31.2,-23.2 31.2,-19.5 C31.2,-16.8 29.8,-14.8 27.6,-12.6 L16.6,-1.85 H32.4"/><path transform="translate(27,0)" d="M16.2,-20.8 C17.2,-24.6 20.2,-26.2 24,-26.2 C28.6,-26.2 31.2,-23.2 31.2,-19.5 C31.2,-16.8 29.8,-14.8 27.6,-12.6 L16.6,-1.85 H32.4"/><path d="M64,-28 V-19.5 M68.8,-28 V-19.5" stroke-width="3"/><circle cx="37.3" cy="-1.9" r="2.1" fill="#ffffff" stroke="none"/></g>
<polygon points="1085.0,508.0 1107.0,510.5 1107.0,1205.0 1084.0,1216.0" fill="#1f1f1f" filter="url(#grainV)"/><line x1="1085" y1="508.7" x2="1107" y2="511.2" stroke="#3c3c3c" stroke-width="1.5"/><polygon points="875.5,517.5 1085.0,510.0 1084.0,1216.0 875.0,1192.0" fill="#262626" filter="url(#grainV)"/><polygon points="897.0,539.0 1076.0,533.5 1076.0,1162.5 897.0,1144.0" fill="#101010" /><polygon points="897.0,539.0 1076.0,533.5 1076.0,654.1 897.0,655.0" fill="url(#purp)" filter="url(#speck)"/><ellipse cx="909.0" cy="559.6" rx="14" ry="30" fill="url(#led)"/><ellipse cx="909.0" cy="542.6" rx="5" ry="3" fill="#cfc8ff" opacity="0.6"/><ellipse cx="909.0" cy="541.6" rx="2.6" ry="1.6" fill="#ffffff"/><ellipse cx="938.0" cy="558.8" rx="14" ry="30" fill="url(#led)"/><ellipse cx="938.0" cy="541.8" rx="5" ry="3" fill="#cfc8ff" opacity="0.6"/><ellipse cx="938.0" cy="540.8" rx="2.6" ry="1.6" fill="#ffffff"/><ellipse cx="967.0" cy="557.9" rx="14" ry="30" fill="url(#led)"/><ellipse cx="967.0" cy="540.9" rx="5" ry="3" fill="#cfc8ff" opacity="0.6"/><ellipse cx="967.0" cy="539.9" rx="2.6" ry="1.6" fill="#ffffff"/><ellipse cx="996.0" cy="557.0" rx="14" ry="30" fill="url(#led)"/><ellipse cx="996.0" cy="540.0" rx="5" ry="3" fill="#cfc8ff" opacity="0.6"/><ellipse cx="996.0" cy="539.0" rx="2.6" ry="1.6" fill="#ffffff"/><ellipse cx="1025.0" cy="556.1" rx="14" ry="30" fill="url(#led)"/><ellipse cx="1025.0" cy="539.1" rx="5" ry="3" fill="#cfc8ff" opacity="0.6"/><ellipse cx="1025.0" cy="538.1" rx="2.6" ry="1.6" fill="#ffffff"/><ellipse cx="1056.0" cy="555.2" rx="14" ry="30" fill="url(#led)"/><ellipse cx="1056.0" cy="538.2" rx="5" ry="3" fill="#cfc8ff" opacity="0.6"/><ellipse cx="1056.0" cy="537.2" rx="2.6" ry="1.6" fill="#ffffff"/><polygon points="897.0,539.0 1076.0,533.5 1076.0,654.1 897.0,655.0" fill="url(#purpL)" /><polygon points="875.5,517.5 1085.0,510.0 1085.0,533.2 875.5,539.7" fill="#2a2a2a" filter="url(#grainH)"/><line x1="897.0" y1="538.0" x2="1076.0" y2="532.4" stroke="#121212" stroke-width="2" /><polygon points="875.5,539.7 897.0,539.0 897.0,1144.0 875.5,1141.8" fill="#262626" filter="url(#grainV)"/><polygon points="891.0,539.2 897.0,539.0 897.0,1144.0 891.0,1143.4" fill="#1a1a1a" /><polygon points="1076.0,533.5 1085.0,533.2 1085.0,1163.4 1076.0,1162.5" fill="#2e2e2e" filter="url(#grainV)"/><line x1="1084.5" y1="510" x2="1083.5" y2="1216" stroke="#121212" stroke-width="1.2"/><polygon points="897.0,655.0 1076.0,654.1 1076.0,661.4 897.0,662.0" fill="#2c2c2c" /><line x1="897.0" y1="663.0" x2="1076.0" y2="662.4" stroke="#080808" stroke-width="2" /><polygon points="902.0,672.0 1076.0,671.8 1076.0,692.6 902.0,692.0" fill="#262626" filter="url(#grainH)"/><line x1="902.0" y1="672.7" x2="1076.0" y2="672.5" stroke="#3c3c3c" stroke-width="1.2" /><line x1="902.0" y1="691.4" x2="1076.0" y2="691.9" stroke="#0a0a0a" stroke-width="1.4" /><polygon points="902.0,672.0 907.0,672.0 907.0,692.0 902.0,692.0" fill="#161616" /><rect x="930.3" y="676.1" width="1.8" height="4.8" rx="0.8" fill="#c8c8c8"/><circle cx="935.6" cy="680.2" r="1.5" fill="#d8d8d8"/><rect x="956.5" y="676.1" width="1.8" height="4.8" rx="0.8" fill="#c8c8c8"/><circle cx="961.8" cy="680.2" r="1.5" fill="#d8d8d8"/><rect x="982.7" y="676.1" width="1.8" height="4.8" rx="0.8" fill="#c8c8c8"/><circle cx="988.0" cy="680.2" r="1.5" fill="#d8d8d8"/><rect x="1008.8" y="676.1" width="1.8" height="4.8" rx="0.8" fill="#c8c8c8"/><circle cx="1014.1" cy="680.2" r="1.5" fill="#d8d8d8"/><rect x="1035.0" y="676.1" width="1.8" height="4.8" rx="0.8" fill="#c8c8c8"/><circle cx="1040.3" cy="680.2" r="1.5" fill="#d8d8d8"/><rect x="1061.2" y="676.2" width="1.8" height="4.8" rx="0.8" fill="#c8c8c8"/><circle cx="1066.5" cy="680.3" r="1.5" fill="#d8d8d8"/><rect x="917.2" y="682.9" width="1.8" height="4.8" rx="0.8" fill="#c8c8c8"/><circle cx="922.5" cy="687.0" r="1.5" fill="#d8d8d8"/><rect x="943.4" y="683.0" width="1.8" height="4.8" rx="0.8" fill="#c8c8c8"/><circle cx="948.7" cy="687.1" r="1.5" fill="#d8d8d8"/><rect x="969.6" y="683.0" width="1.8" height="4.8" rx="0.8" fill="#c8c8c8"/><circle cx="974.9" cy="687.1" r="1.5" fill="#d8d8d8"/><rect x="995.7" y="683.1" width="1.8" height="4.8" rx="0.8" fill="#c8c8c8"/><circle cx="1001.0" cy="687.2" r="1.5" fill="#d8d8d8"/><rect x="1021.9" y="683.1" width="1.8" height="4.8" rx="0.8" fill="#c8c8c8"/><circle cx="1027.2" cy="687.2" r="1.5" fill="#d8d8d8"/><rect x="1048.1" y="683.2" width="1.8" height="4.8" rx="0.8" fill="#c8c8c8"/><circle cx="1053.4" cy="687.3" r="1.5" fill="#d8d8d8"/><polygon points="903.0,790.1 1074.0,794.4 1074.0,867.1 903.0,860.2" fill="#121212" /><path d="M903.0,792.2 Q912.5,789.4 922.0,792.6 Q931.5,789.9 941.0,793.1 Q950.5,790.4 960.0,793.6 Q969.5,790.8 979.0,794.1 Q988.5,791.3 998.0,794.6 Q1007.5,791.8 1017.0,795.0 Q1026.5,792.3 1036.0,795.5 Q1045.5,792.8 1055.0,796.0 Q1064.5,793.2 1074.0,796.5 L1074.0,811.0 L903.0,806.2 Z" fill="#1b1b1b"/><line x1="907.8" y1="792.3" x2="909.2" y2="808.4" stroke="#0c0c0c" stroke-width="1.6"/><line x1="917.2" y1="792.5" x2="918.8" y2="808.6" stroke="#0c0c0c" stroke-width="1.6"/><line x1="926.8" y1="792.8" x2="928.2" y2="808.9" stroke="#0c0c0c" stroke-width="1.6"/><line x1="936.2" y1="793.0" x2="937.8" y2="809.2" stroke="#0c0c0c" stroke-width="1.6"/><line x1="945.8" y1="793.2" x2="947.2" y2="809.4" stroke="#0c0c0c" stroke-width="1.6"/><line x1="955.2" y1="793.5" x2="956.8" y2="809.7" stroke="#0c0c0c" stroke-width="1.6"/><line x1="964.8" y1="793.7" x2="966.2" y2="810.0" stroke="#0c0c0c" stroke-width="1.6"/><line x1="974.2" y1="794.0" x2="975.8" y2="810.3" stroke="#0c0c0c" stroke-width="1.6"/><line x1="983.8" y1="794.2" x2="985.2" y2="810.5" stroke="#0c0c0c" stroke-width="1.6"/><line x1="993.2" y1="794.4" x2="994.8" y2="810.8" stroke="#0c0c0c" stroke-width="1.6"/><line x1="1002.8" y1="794.7" x2="1004.2" y2="811.1" stroke="#0c0c0c" stroke-width="1.6"/><line x1="1012.2" y1="794.9" x2="1013.8" y2="811.4" stroke="#0c0c0c" stroke-width="1.6"/><line x1="1021.8" y1="795.2" x2="1023.2" y2="811.6" stroke="#0c0c0c" stroke-width="1.6"/><line x1="1031.2" y1="795.4" x2="1032.8" y2="811.9" stroke="#0c0c0c" stroke-width="1.6"/><line x1="1040.8" y1="795.6" x2="1042.2" y2="812.2" stroke="#0c0c0c" stroke-width="1.6"/><line x1="1050.2" y1="795.9" x2="1051.8" y2="812.5" stroke="#0c0c0c" stroke-width="1.6"/><line x1="1059.8" y1="796.1" x2="1061.2" y2="812.7" stroke="#0c0c0c" stroke-width="1.6"/><line x1="1069.2" y1="796.4" x2="1070.8" y2="813.0" stroke="#0c0c0c" stroke-width="1.6"/><polygon points="897.0,860.0 1076.0,867.2 1076.0,877.6 897.0,870.0" fill="#2c2c2c" filter="url(#grainH)"/><line x1="897.0" y1="871.0" x2="1076.0" y2="878.7" stroke="#080808" stroke-width="2" /><polygon points="889.0,1143.2 1078.0,1162.7 1078.0,1206.4 889.0,1185.1" fill="#202020" filter="url(#grainH)"/><polygon points="889.0,1185.1 1078.0,1206.4 1078.0,1214.7 889.0,1193.1" fill="#2a2a2a" /><line x1="889.0" y1="1185.1" x2="1078.0" y2="1206.4" stroke="#111" stroke-width="1.5" /><line x1="983" y1="1152.9" x2="983" y2="1195.7" stroke="#111" stroke-width="2.5"/><path d="M927.0,1147.9 A8,6.5 0 0 0 943.0,1147.9 Z" fill="#050505"/><path d="M1027.0,1158.3 A8,6.5 0 0 0 1043.0,1158.3 Z" fill="#050505"/><rect x="1068" y="735" width="8" height="30" fill="#8a8a8a" stroke="#3a3a3a" stroke-width="1"/><rect x="1070.4" y="738" width="2.8" height="24" fill="#cfcfcf"/><circle cx="1095" cy="779" r="4.5" fill="none" stroke="#a8a8a8" stroke-width="2"/><ellipse cx="893" cy="533" rx="2.2" ry="1.5" fill="#f0f0f0"/><polygon points="684.0,505.5 871.0,515.0 871.0,1192.0 684.5,1229.0" fill="#232323" filter="url(#grainV)"/><polygon points="707.5,536.0 856.0,546.0 856.0,1175.0 707.5,1202.0" fill="#171717" /><line x1="684.8" y1="505.5" x2="685.3" y2="1229" stroke="#111" stroke-width="1.6"/><polygon points="697.0,896.0 864.0,882.0 864.0,899.9 697.0,915.0" fill="#262626" filter="url(#grainH)"/><line x1="697.0" y1="896.7" x2="864.0" y2="882.7" stroke="#3c3c3c" stroke-width="1.2" /><line x1="697.0" y1="914.4" x2="864.0" y2="899.3" stroke="#0a0a0a" stroke-width="1.4" /><polygon points="697.0,896.0 702.0,895.6 702.0,914.5 697.0,915.0" fill="#161616" /><circle cx="703.0" cy="905.0" r="1.3" fill="#9a9a9a"/><circle cx="859.0" cy="891.4" r="1.3" fill="#9a9a9a"/><circle cx="741.9" cy="900.5" r="1.5" fill="#d0d0d0"/><rect x="745.9" y="896.5" width="1.8" height="5.5" rx="0.8" fill="#c0c0c0"/><circle cx="767.8" cy="898.3" r="1.5" fill="#d0d0d0"/><rect x="771.8" y="894.3" width="1.8" height="5.5" rx="0.8" fill="#c0c0c0"/><circle cx="793.7" cy="896.0" r="1.5" fill="#d0d0d0"/><rect x="797.7" y="892.0" width="1.8" height="5.5" rx="0.8" fill="#c0c0c0"/><circle cx="819.5" cy="893.8" r="1.5" fill="#d0d0d0"/><rect x="823.5" y="889.8" width="1.8" height="5.5" rx="0.8" fill="#c0c0c0"/><circle cx="845.4" cy="891.6" r="1.5" fill="#d0d0d0"/><rect x="849.4" y="887.6" width="1.8" height="5.5" rx="0.8" fill="#c0c0c0"/><circle cx="729.0" cy="907.3" r="1.5" fill="#d0d0d0"/><rect x="733.0" y="903.3" width="1.8" height="5.5" rx="0.8" fill="#c0c0c0"/><circle cx="754.9" cy="905.0" r="1.5" fill="#d0d0d0"/><rect x="758.9" y="901.0" width="1.8" height="5.5" rx="0.8" fill="#c0c0c0"/><circle cx="780.7" cy="902.7" r="1.5" fill="#d0d0d0"/><rect x="784.7" y="898.7" width="1.8" height="5.5" rx="0.8" fill="#c0c0c0"/><circle cx="806.6" cy="900.4" r="1.5" fill="#d0d0d0"/><rect x="810.6" y="896.4" width="1.8" height="5.5" rx="0.8" fill="#c0c0c0"/><circle cx="832.5" cy="898.1" r="1.5" fill="#d0d0d0"/><rect x="836.5" y="894.1" width="1.8" height="5.5" rx="0.8" fill="#c0c0c0"/><polygon points="697.0,1048.0 864.0,1025.2 864.0,1043.1 697.0,1067.0" fill="#262626" filter="url(#grainH)"/><line x1="697.0" y1="1048.7" x2="864.0" y2="1025.9" stroke="#3c3c3c" stroke-width="1.2" /><line x1="697.0" y1="1066.4" x2="864.0" y2="1042.6" stroke="#0a0a0a" stroke-width="1.4" /><polygon points="697.0,1048.0 702.0,1047.3 702.0,1066.3 697.0,1067.0" fill="#161616" /><circle cx="703.0" cy="1056.7" r="1.3" fill="#9a9a9a"/><circle cx="859.0" cy="1034.9" r="1.3" fill="#9a9a9a"/><circle cx="741.9" cy="1050.2" r="1.5" fill="#d0d0d0"/><rect x="745.9" y="1046.2" width="1.8" height="5.5" rx="0.8" fill="#c0c0c0"/><circle cx="767.8" cy="1046.6" r="1.5" fill="#d0d0d0"/><rect x="771.8" y="1042.6" width="1.8" height="5.5" rx="0.8" fill="#c0c0c0"/><circle cx="793.7" cy="1043.0" r="1.5" fill="#d0d0d0"/><rect x="797.7" y="1039.0" width="1.8" height="5.5" rx="0.8" fill="#c0c0c0"/><circle cx="819.5" cy="1039.4" r="1.5" fill="#d0d0d0"/><rect x="823.5" y="1035.4" width="1.8" height="5.5" rx="0.8" fill="#c0c0c0"/><circle cx="845.4" cy="1035.8" r="1.5" fill="#d0d0d0"/><rect x="849.4" y="1031.8" width="1.8" height="5.5" rx="0.8" fill="#c0c0c0"/><circle cx="729.0" cy="1057.6" r="1.5" fill="#d0d0d0"/><rect x="733.0" y="1053.6" width="1.8" height="5.5" rx="0.8" fill="#c0c0c0"/><circle cx="754.9" cy="1053.9" r="1.5" fill="#d0d0d0"/><rect x="758.9" y="1049.9" width="1.8" height="5.5" rx="0.8" fill="#c0c0c0"/><circle cx="780.7" cy="1050.3" r="1.5" fill="#d0d0d0"/><rect x="784.7" y="1046.3" width="1.8" height="5.5" rx="0.8" fill="#c0c0c0"/><circle cx="806.6" cy="1046.7" r="1.5" fill="#d0d0d0"/><rect x="810.6" y="1042.7" width="1.8" height="5.5" rx="0.8" fill="#c0c0c0"/><circle cx="832.5" cy="1043.0" r="1.5" fill="#d0d0d0"/><rect x="836.5" y="1039.0" width="1.8" height="5.5" rx="0.8" fill="#c0c0c0"/><polygon points="698.3,810.0 856.7,805.0 856.7,825.0 698.3,830.0" fill="#252321" filter="url(#grainH)"/><polygon points="698.3,810.0 702.3,810.0 702.3,830.0 698.3,830.0" fill="#121212" /><line x1="698.3" y1="810.8" x2="856.7" y2="805.8" stroke="#3a3a3a" stroke-width="1.4"/><line x1="698.3" y1="829.4" x2="856.7" y2="824.4" stroke="#0a0a0a" stroke-width="1.4"/><g transform="translate(740,818.3) rotate(-1.45)"><rect x="0" y="-3.5" width="130.0" height="7" rx="3.5" fill="url(#rodg)"/></g><path d="M777.5,795 C782,795 786,796 790,797.5 L803.3,808.3 L800,822 L794,812 C789,806 783,799 777.5,795 Z" fill="url(#rodg)" stroke="#2a2a2a" stroke-width="0.8"/><ellipse cx="804.2" cy="816.7" rx="4.5" ry="8.5" fill="#121212" stroke="#262626" stroke-width="0.8"/><circle cx="730.4" cy="821.7" r="8" fill="url(#knob)"/><circle cx="744.6" cy="820.8" r="6.3" fill="url(#knob)"/><circle cx="859.2" cy="815" r="5.2" fill="url(#knob)"/><circle cx="870" cy="814.6" r="6.7" fill="url(#knob)"/><rect x="695" y="740" width="7.5" height="27.5" rx="3.5" fill="#6e6e6e" stroke="#c8c8c8" stroke-width="1.3"/><rect x="697.2" y="746.8" width="3.0" height="14.0" fill="#b0b0b0"/><circle cx="698.8" cy="744.1" r="1.3" fill="#333"/><circle cx="698.8" cy="763.4" r="1.3" fill="#333"/><rect x="695.8" y="775.8" width="4.2" height="8.4" fill="#b8b8b8" stroke="#555" stroke-width="0.6"/><rect x="695.8" y="791.2" width="4.2" height="8.0" fill="#b8b8b8" stroke="#555" stroke-width="0.6"/><rect x="698.3" y="784" width="11.7" height="7.7" rx="1" fill="#d0d0d0" stroke="#555" stroke-width="0.6"/><line x1="873.3" y1="515" x2="873.3" y2="1193" stroke="#f4f4f4" stroke-width="2"/><rect x="879" y="585" width="10" height="27" fill="#2a2a2a" stroke="#b0b0b0" stroke-width="1.4"/><rect x="883.0" y="588" width="2.5" height="21" fill="#777"/><circle cx="884.0" cy="589" r="1.2" fill="#ccc"/><circle cx="884.0" cy="608" r="1.2" fill="#ccc"/><rect x="877" y="790" width="11" height="24" fill="#2a2a2a" stroke="#b0b0b0" stroke-width="1.4"/><rect x="881.4" y="793" width="2.8" height="18" fill="#777"/><circle cx="882.5" cy="794" r="1.2" fill="#ccc"/><circle cx="882.5" cy="810" r="1.2" fill="#ccc"/><rect x="866" y="1085" width="7" height="22" fill="#2a2a2a" stroke="#b0b0b0" stroke-width="1.4"/><rect x="868.8" y="1088" width="1.8" height="16" fill="#777"/><circle cx="869.5" cy="1089" r="1.2" fill="#ccc"/><circle cx="869.5" cy="1103" r="1.2" fill="#ccc"/><clipPath id="ov3"><path d="M690.0,548.5 C690.0,540.3 696.8,533.9 705.0,534.4 L861.5,543.6 C869.7,544.1 876.5,551.3 876.5,559.5 L876.5,689.5 C876.5,697.7 869.7,704.6 861.5,704.8 L705.0,707.7 C696.8,707.9 690.0,701.2 690.0,693.0 Z"/></clipPath><path d="M690.0,548.5 C690.0,540.3 696.8,533.9 705.0,534.4 L861.5,543.6 C869.7,544.1 876.5,551.3 876.5,559.5 L876.5,689.5 C876.5,697.7 869.7,704.6 861.5,704.8 L705.0,707.7 C696.8,707.9 690.0,701.2 690.0,693.0 Z" fill="#5d5d5d"/><g clip-path="url(#ov3)"><polygon points="682.5,542.8 884.0,550.4 884.0,560.8 682.5,553.9" fill="#6a6a6a" /><rect x="716.5" y="544.6" width="3" height="5.0" fill="#585858"/><rect x="722.8" y="544.9" width="3" height="5.0" fill="#585858"/><rect x="729.2" y="545.1" width="3" height="5.0" fill="#585858"/><rect x="735.5" y="545.3" width="3" height="5.0" fill="#585858"/><rect x="741.8" y="545.6" width="3" height="5.0" fill="#585858"/><rect x="748.2" y="545.8" width="3" height="5.0" fill="#585858"/><rect x="754.5" y="546.1" width="3" height="5.0" fill="#585858"/><rect x="760.8" y="546.3" width="3" height="5.0" fill="#585858"/><rect x="767.2" y="546.5" width="3" height="5.0" fill="#585858"/><rect x="773.5" y="546.8" width="3" height="5.0" fill="#585858"/><rect x="779.8" y="547.0" width="3" height="5.0" fill="#585858"/><rect x="786.2" y="547.3" width="3" height="5.0" fill="#585858"/><rect x="792.5" y="547.5" width="3" height="5.0" fill="#585858"/><rect x="798.8" y="547.7" width="3" height="5.0" fill="#585858"/><rect x="805.2" y="548.0" width="3" height="5.0" fill="#585858"/><rect x="811.5" y="548.2" width="3" height="5.0" fill="#585858"/><rect x="817.8" y="548.5" width="3" height="5.0" fill="#585858"/><rect x="824.2" y="548.7" width="3" height="5.0" fill="#585858"/><rect x="830.5" y="548.9" width="3" height="5.0" fill="#585858"/><rect x="836.8" y="549.2" width="3" height="5.0" fill="#585858"/><rect x="843.2" y="549.4" width="3" height="5.0" fill="#585858"/><rect x="849.5" y="549.7" width="3" height="5.0" fill="#585858"/><line x1="682.5" y1="553.9" x2="884.0" y2="560.8" stroke="#4a4a4a" stroke-width="1.2" /><polygon points="715.0,555.0 854.0,559.7 854.0,587.3 715.0,584.0" fill="#575757" /><polygon points="704.0,554.6 715.0,555.0 715.0,584.0 704.0,583.7" fill="#6c6c6c" /><polygon points="854.0,559.7 871.0,560.3 871.0,587.8 854.0,587.3" fill="#666666" /><circle cx="709.0" cy="569.3" r="1.5" fill="#dddddd"/><circle cx="862.0" cy="573.8" r="1.5" fill="#dddddd"/><polygon points="682.5,583.2 884.0,588.1 884.0,597.5 682.5,593.3" fill="#6a6a6a" /><rect x="716.5" y="584.6" width="3" height="4.5" fill="#585858"/><rect x="722.8" y="584.7" width="3" height="4.5" fill="#585858"/><rect x="729.2" y="584.9" width="3" height="4.5" fill="#585858"/><rect x="735.5" y="585.0" width="3" height="4.5" fill="#585858"/><rect x="741.8" y="585.2" width="3" height="4.5" fill="#585858"/><rect x="748.2" y="585.3" width="3" height="4.5" fill="#585858"/><rect x="754.5" y="585.5" width="3" height="4.5" fill="#585858"/><rect x="760.8" y="585.6" width="3" height="4.5" fill="#585858"/><rect x="767.2" y="585.8" width="3" height="4.5" fill="#585858"/><rect x="773.5" y="585.9" width="3" height="4.5" fill="#585858"/><rect x="779.8" y="586.1" width="3" height="4.5" fill="#585858"/><rect x="786.2" y="586.2" width="3" height="4.5" fill="#585858"/><rect x="792.5" y="586.4" width="3" height="4.5" fill="#585858"/><rect x="798.8" y="586.6" width="3" height="4.5" fill="#585858"/><rect x="805.2" y="586.7" width="3" height="4.5" fill="#585858"/><rect x="811.5" y="586.9" width="3" height="4.5" fill="#585858"/><rect x="817.8" y="587.0" width="3" height="4.5" fill="#585858"/><rect x="824.2" y="587.2" width="3" height="4.5" fill="#585858"/><rect x="830.5" y="587.3" width="3" height="4.5" fill="#585858"/><rect x="836.8" y="587.5" width="3" height="4.5" fill="#585858"/><rect x="843.2" y="587.6" width="3" height="4.5" fill="#585858"/><rect x="849.5" y="587.8" width="3" height="4.5" fill="#585858"/><line x1="682.5" y1="593.3" x2="884.0" y2="597.5" stroke="#4a4a4a" stroke-width="1.2" /><polygon points="715.0,594.0 854.0,596.9 854.0,620.7 715.0,619.0" fill="#575757" /><polygon points="704.0,593.8 715.0,594.0 715.0,619.0 704.0,618.9" fill="#6c6c6c" /><polygon points="854.0,596.9 871.0,597.2 871.0,620.9 854.0,620.7" fill="#666666" /><polygon points="682.5,618.6 884.0,621.0 884.0,630.4 682.5,628.7" fill="#6a6a6a" /><rect x="716.5" y="619.5" width="3" height="4.5" fill="#585858"/><rect x="722.8" y="619.6" width="3" height="4.5" fill="#585858"/><rect x="729.2" y="619.7" width="3" height="4.5" fill="#585858"/><rect x="735.5" y="619.8" width="3" height="4.5" fill="#585858"/><rect x="741.8" y="619.8" width="3" height="4.5" fill="#585858"/><rect x="748.2" y="619.9" width="3" height="4.5" fill="#585858"/><rect x="754.5" y="620.0" width="3" height="4.5" fill="#585858"/><rect x="760.8" y="620.1" width="3" height="4.5" fill="#585858"/><rect x="767.2" y="620.1" width="3" height="4.5" fill="#585858"/><rect x="773.5" y="620.2" width="3" height="4.5" fill="#585858"/><rect x="779.8" y="620.3" width="3" height="4.5" fill="#585858"/><rect x="786.2" y="620.4" width="3" height="4.5" fill="#585858"/><rect x="792.5" y="620.4" width="3" height="4.5" fill="#585858"/><rect x="798.8" y="620.5" width="3" height="4.5" fill="#585858"/><rect x="805.2" y="620.6" width="3" height="4.5" fill="#585858"/><rect x="811.5" y="620.7" width="3" height="4.5" fill="#585858"/><rect x="817.8" y="620.7" width="3" height="4.5" fill="#585858"/><rect x="824.2" y="620.8" width="3" height="4.5" fill="#585858"/><rect x="830.5" y="620.9" width="3" height="4.5" fill="#585858"/><rect x="836.8" y="621.0" width="3" height="4.5" fill="#585858"/><rect x="843.2" y="621.0" width="3" height="4.5" fill="#585858"/><rect x="849.5" y="621.1" width="3" height="4.5" fill="#585858"/><line x1="682.5" y1="628.7" x2="884.0" y2="630.4" stroke="#4a4a4a" stroke-width="1.2" /><polygon points="715.0,629.0 854.0,630.2 854.0,654.0 715.0,654.0" fill="#575757" /><polygon points="704.0,628.9 715.0,629.0 715.0,654.0 704.0,654.0" fill="#6c6c6c" /><polygon points="854.0,630.2 871.0,630.3 871.0,654.0 854.0,654.0" fill="#666666" /><polygon points="682.5,654.0 884.0,654.0 884.0,663.4 682.5,664.1" fill="#6a6a6a" /><rect x="716.5" y="654.5" width="3" height="4.5" fill="#585858"/><rect x="722.8" y="654.5" width="3" height="4.5" fill="#585858"/><rect x="729.2" y="654.5" width="3" height="4.5" fill="#585858"/><rect x="735.5" y="654.5" width="3" height="4.5" fill="#585858"/><rect x="741.8" y="654.5" width="3" height="4.5" fill="#585858"/><rect x="748.2" y="654.5" width="3" height="4.5" fill="#585858"/><rect x="754.5" y="654.5" width="3" height="4.5" fill="#585858"/><rect x="760.8" y="654.5" width="3" height="4.5" fill="#585858"/><rect x="767.2" y="654.5" width="3" height="4.5" fill="#585858"/><rect x="773.5" y="654.5" width="3" height="4.5" fill="#585858"/><rect x="779.8" y="654.5" width="3" height="4.5" fill="#585858"/><rect x="786.2" y="654.5" width="3" height="4.5" fill="#585858"/><rect x="792.5" y="654.5" width="3" height="4.5" fill="#585858"/><rect x="798.8" y="654.5" width="3" height="4.5" fill="#585858"/><rect x="805.2" y="654.5" width="3" height="4.5" fill="#585858"/><rect x="811.5" y="654.5" width="3" height="4.5" fill="#585858"/><rect x="817.8" y="654.5" width="3" height="4.5" fill="#585858"/><rect x="824.2" y="654.5" width="3" height="4.5" fill="#585858"/><rect x="830.5" y="654.5" width="3" height="4.5" fill="#585858"/><rect x="836.8" y="654.5" width="3" height="4.5" fill="#585858"/><rect x="843.2" y="654.5" width="3" height="4.5" fill="#585858"/><rect x="849.5" y="654.5" width="3" height="4.5" fill="#585858"/><line x1="682.5" y1="664.1" x2="884.0" y2="663.4" stroke="#4a4a4a" stroke-width="1.2" /><polygon points="715.0,664.0 854.0,663.5 854.0,689.2 715.0,691.0" fill="#575757" /><polygon points="704.0,664.0 715.0,664.0 715.0,691.0 704.0,691.1" fill="#6c6c6c" /><polygon points="854.0,663.5 871.0,663.4 871.0,689.0 854.0,689.2" fill="#666666" /><circle cx="709.0" cy="677.6" r="1.5" fill="#dddddd"/><circle cx="862.0" cy="676.3" r="1.5" fill="#dddddd"/><polygon points="682.5,691.4 884.0,688.8 884.0,698.2 682.5,701.5" fill="#6a6a6a" /><rect x="716.5" y="691.5" width="3" height="4.5" fill="#585858"/><rect x="722.8" y="691.4" width="3" height="4.5" fill="#585858"/><rect x="729.2" y="691.3" width="3" height="4.5" fill="#585858"/><rect x="735.5" y="691.2" width="3" height="4.5" fill="#585858"/><rect x="741.8" y="691.1" width="3" height="4.5" fill="#585858"/><rect x="748.2" y="691.0" width="3" height="4.5" fill="#585858"/><rect x="754.5" y="691.0" width="3" height="4.5" fill="#585858"/><rect x="760.8" y="690.9" width="3" height="4.5" fill="#585858"/><rect x="767.2" y="690.8" width="3" height="4.5" fill="#585858"/><rect x="773.5" y="690.7" width="3" height="4.5" fill="#585858"/><rect x="779.8" y="690.6" width="3" height="4.5" fill="#585858"/><rect x="786.2" y="690.5" width="3" height="4.5" fill="#585858"/><rect x="792.5" y="690.5" width="3" height="4.5" fill="#585858"/><rect x="798.8" y="690.4" width="3" height="4.5" fill="#585858"/><rect x="805.2" y="690.3" width="3" height="4.5" fill="#585858"/><rect x="811.5" y="690.2" width="3" height="4.5" fill="#585858"/><rect x="817.8" y="690.1" width="3" height="4.5" fill="#585858"/><rect x="824.2" y="690.1" width="3" height="4.5" fill="#585858"/><rect x="830.5" y="690.0" width="3" height="4.5" fill="#585858"/><rect x="836.8" y="689.9" width="3" height="4.5" fill="#585858"/><rect x="843.2" y="689.8" width="3" height="4.5" fill="#585858"/><rect x="849.5" y="689.7" width="3" height="4.5" fill="#585858"/><line x1="682.5" y1="701.5" x2="884.0" y2="698.2" stroke="#4a4a4a" stroke-width="1.2" /></g><path d="M690.0,548.5 C690.0,540.3 696.8,533.9 705.0,534.4 L861.5,543.6 C869.7,544.1 876.5,551.3 876.5,559.5 L876.5,689.5 C876.5,697.7 869.7,704.6 861.5,704.8 L705.0,707.7 C696.8,707.9 690.0,701.2 690.0,693.0 Z" fill="none" stroke="#0a1414" stroke-opacity="0.55" stroke-width="8"/><path d="M690.0,548.5 C690.0,540.3 696.8,533.9 705.0,534.4 L861.5,543.6 C869.7,544.1 876.5,551.3 876.5,559.5 L876.5,689.5 C876.5,697.7 869.7,704.6 861.5,704.8 L705.0,707.7 C696.8,707.9 690.0,701.2 690.0,693.0 Z" fill="none" stroke="#2d5e5f" stroke-width="5"/><path d="M690.0,548.5 C690.0,540.3 696.8,533.9 705.0,534.4 L861.5,543.6 C869.7,544.1 876.5,551.3 876.5,559.5 L876.5,689.5 C876.5,697.7 869.7,704.6 861.5,704.8 L705.0,707.7 C696.8,707.9 690.0,701.2 690.0,693.0 Z" fill="none" stroke="#219896" stroke-width="5" stroke-dasharray="18 5"/><clipPath id="ov4"><path d="M873.5,891.5 C873.5,883.3 880.3,876.7 888.5,876.9 L1083.5,882.1 C1091.7,882.3 1098.5,889.3 1098.5,897.5 L1098.5,1145.5 C1098.5,1153.7 1091.7,1159.9 1083.6,1159.2 L888.4,1142.8 C880.3,1142.1 873.5,1134.7 873.5,1126.5 Z"/></clipPath><path d="M873.5,891.5 C873.5,883.3 880.3,876.7 888.5,876.9 L1083.5,882.1 C1091.7,882.3 1098.5,889.3 1098.5,897.5 L1098.5,1145.5 C1098.5,1153.7 1091.7,1159.9 1083.6,1159.2 L888.4,1142.8 C880.3,1142.1 873.5,1134.7 873.5,1126.5 Z" fill="#5d5d5d"/><g clip-path="url(#ov4)"><rect x="1080" y="875" width="26" height="293" fill="#646464"/><line x1="1086" y1="880" x2="1086" y2="1163" stroke="#777" stroke-width="1"/><polygon points="869.0,920.0 1080.0,927.5 1080.0,943.8 869.0,937.5" fill="#707070" filter="url(#grainR)"/><line x1="869.0" y1="920.6" x2="1080.0" y2="928.1" stroke="#7a7a7a" stroke-width="1"/><line x1="869.0" y1="937.5" x2="1080.0" y2="943.8" stroke="#404040" stroke-width="1.6"/><polygon points="869.0,937.5 1080.0,943.8 1080.0,1000.0 869.0,990.0" fill="#575757" /><polygon points="869.0,990.0 1080.0,1000.0 1080.0,1017.5 869.0,1006.0" fill="#707070" filter="url(#grainR)"/><line x1="869.0" y1="990.6" x2="1080.0" y2="1000.6" stroke="#7a7a7a" stroke-width="1"/><line x1="869.0" y1="1006.0" x2="1080.0" y2="1017.5" stroke="#404040" stroke-width="1.6"/><polygon points="869.0,1006.0 1080.0,1017.5 1080.0,1069.0 869.0,1057.0" fill="#575757" /><polygon points="869.0,1057.0 1080.0,1069.0 1080.0,1089.0 869.0,1074.7" fill="#707070" filter="url(#grainR)"/><line x1="869.0" y1="1057.6" x2="1080.0" y2="1069.6" stroke="#7a7a7a" stroke-width="1"/><line x1="869.0" y1="1074.7" x2="1080.0" y2="1089.0" stroke="#404040" stroke-width="1.6"/><polygon points="869.0,1074.7 1080.0,1089.0 1080.0,1141.0 869.0,1124.0" fill="#575757" /><polygon points="869.0,1124.0 1080.0,1141.0 1080.0,1175.0 869.0,1160.0" fill="#707070" filter="url(#grainR)"/><line x1="869.0" y1="1124.6" x2="1080.0" y2="1141.6" stroke="#7a7a7a" stroke-width="1"/><line x1="869.0" y1="1160.0" x2="1080.0" y2="1175.0" stroke="#404040" stroke-width="1.6"/></g><path d="M873.5,891.5 C873.5,883.3 880.3,876.7 888.5,876.9 L1083.5,882.1 C1091.7,882.3 1098.5,889.3 1098.5,897.5 L1098.5,1145.5 C1098.5,1153.7 1091.7,1159.9 1083.6,1159.2 L888.4,1142.8 C880.3,1142.1 873.5,1134.7 873.5,1126.5 Z" fill="none" stroke="#0a1414" stroke-opacity="0.55" stroke-width="8"/><path d="M873.5,891.5 C873.5,883.3 880.3,876.7 888.5,876.9 L1083.5,882.1 C1091.7,882.3 1098.5,889.3 1098.5,897.5 L1098.5,1145.5 C1098.5,1153.7 1091.7,1159.9 1083.6,1159.2 L888.4,1142.8 C880.3,1142.1 873.5,1134.7 873.5,1126.5 Z" fill="none" stroke="#2d5e5f" stroke-width="5"/><path d="M873.5,891.5 C873.5,883.3 880.3,876.7 888.5,876.9 L1083.5,882.1 C1091.7,882.3 1098.5,889.3 1098.5,897.5 L1098.5,1145.5 C1098.5,1153.7 1091.7,1159.9 1083.6,1159.2 L888.4,1142.8 C880.3,1142.1 873.5,1134.7 873.5,1126.5 Z" fill="none" stroke="#219896" stroke-width="5" stroke-dasharray="18 5"/><line x1="873.3" y1="515" x2="873.3" y2="1193" stroke="#ffffff" stroke-width="2" opacity="0.55"/><rect x="879" y="585" width="10" height="27" fill="none" stroke="#9a9a9a" stroke-width="1" opacity="0.6"/><rect x="877" y="790" width="11" height="24" fill="none" stroke="#9a9a9a" stroke-width="1" opacity="0.6"/><rect x="866" y="1085" width="7" height="22" fill="none" stroke="#9a9a9a" stroke-width="1" opacity="0.6"/>
</svg></body></html>
